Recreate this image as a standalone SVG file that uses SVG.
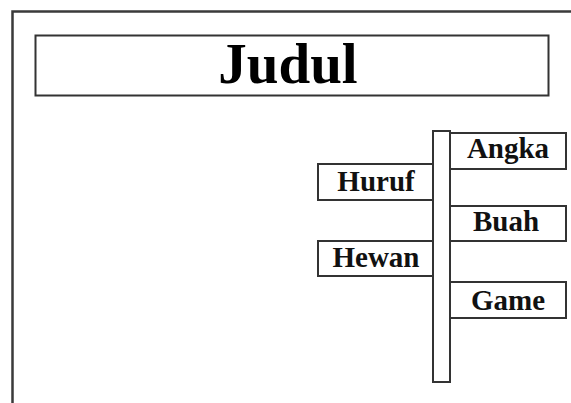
<svg xmlns="http://www.w3.org/2000/svg" width="571" height="403" viewBox="0 0 571 403">
  <style>
    .frame { fill: none; stroke: #3a3a3a; stroke-width: 2.5; }
    .box { fill: #ffffff; stroke: #333333; stroke-width: 2; }
    .title { font-family: "Liberation Serif", "Times New Roman", serif; font-weight: bold; font-size: 57px; fill: #000; text-anchor: middle; }
    .label { font-family: "Liberation Serif", "Times New Roman", serif; font-weight: bold; font-size: 29px; fill: #111; text-anchor: middle; }
  </style>
  <rect width="571" height="403" fill="#ffffff"/>
  <!-- page frame, open at right and bottom -->
  <path class="frame" d="M12.5,410 V11.5 H580"/>

  <g id="title">
    <rect class="box" x="35.5" y="35.5" width="513" height="60"/>
    <text class="title" x="288" y="83">Judul</text>
  </g>

  <g id="signs">
    <g id="huruf">
      <rect class="box" x="318" y="164" width="115" height="36"/>
      <text class="label" x="376" y="191">Huruf</text>
    </g>
    <g id="hewan">
      <rect class="box" x="318" y="241" width="115" height="35"/>
      <text class="label" x="376" y="267">Hewan</text>
    </g>
    <g id="angka">
      <rect class="box" x="450" y="133" width="116" height="36"/>
      <text class="label" x="508" y="158">Angka</text>
    </g>
    <g id="buah">
      <rect class="box" x="450" y="206" width="116" height="35"/>
      <text class="label" x="506" y="231">Buah</text>
    </g>
    <g id="game">
      <rect class="box" x="450" y="282" width="116" height="36"/>
      <text class="label" x="508" y="310">Game</text>
    </g>
    <g id="post">
      <rect class="box" x="433" y="131" width="17" height="251"/>
    </g>
  </g>
</svg>
